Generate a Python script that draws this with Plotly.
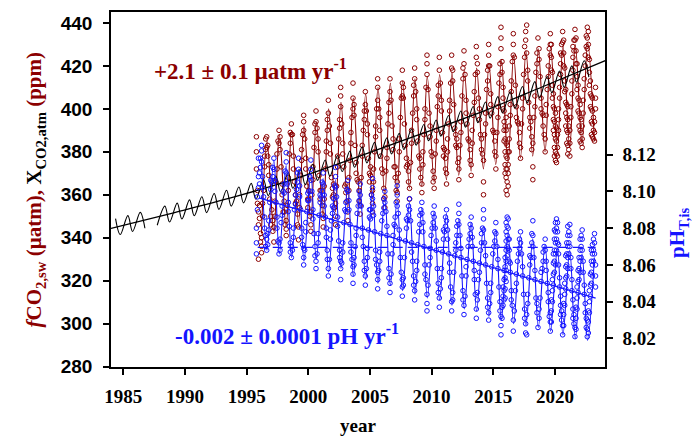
import plotly.graph_objects as go

RED = "#8B0000"
BLUE = "#1414FF"
SERIF = "Liberation Serif, Times New Roman, serif"
SANS = "Liberation Sans, Arial, sans-serif"

# ---------------- observations (one row per year, 12 monthly cells) ----------------
obs_years = list(range(1995, 2024))

fco2_obs = [
    [[], [], [], [], [], [], [], [], [], [372, 380, 387], [356, 362], [346, 352, 330]],
    [[349, 355], [338, 342], [333, 340, 336], [350, 356], [362], [373, 378], [381, 386], [387, 382], [383, 378], [369, 374], [358], [350, 346]],
    [[353], [343, 348], [338, 345], [350, 357], [366], [372, 379], [385], [390, 384], [381, 387], [373], [360, 365], [352]],
    [[352, 357], [346], [341, 348, 344], [355], [362, 368], [379], [384, 389], [393, 388], [388], [372, 378], [366], [356, 360]],
    [[357], [346, 351], [345, 339], [354, 360], [369], [376, 381], [388], [394, 390, 397], [386], [377, 372], [364], [358, 354]],
    [[358, 362], [350], [346, 352, 343], [360], [367, 373], [382], [389, 393], [394, 399], [391], [380, 386], [369], [362, 358]],
    [[362], [351, 355], [349, 345], [358, 364], [372], [385, 380], [390, 395], [398, 404], [392], [379, 384], [368], [363, 359]],
    [[360, 365], [354], [350, 346, 356], [364], [373, 378], [386], [395, 391], [401, 406, 410], [393], [384, 379], [373], [364]],
    [[365, 361], [357], [352, 348], [362, 368], [376], [389, 384], [396], [405, 400, 412], [397, 402], [383], [375, 370], [367]],
    [[366], [357, 362], [355, 351], [368], [378, 383], [390], [399, 395], [402, 408], [399], [388, 393], [377], [370, 366]],
    [[369, 373], [360], [356, 352, 362], [366, 372], [380], [392, 387], [400], [410, 404, 414], [400], [390, 396], [378], [372]],
    [[370], [363, 358], [359, 354], [371], [382, 377], [393], [403, 398], [408, 414], [404], [392], [381, 386], [373]],
    [[373, 368], [362], [361, 357, 366], [370], [386, 380], [396], [405], [412, 406, 418], [405, 410], [393], [383], [377, 373]],
    [[374], [366, 371], [363, 358], [375], [384, 390], [398], [406, 411], [414, 419], [408], [395, 400], [385], [378]],
    [[377, 372], [368], [365, 361], [374, 380], [388], [400, 395], [410], [416, 421, 425], [409], [398], [387, 392], [380]],
    [[378], [371, 366], [368, 363], [379], [390, 385], [401], [411, 406], [418, 424], [412], [399, 404], [389], [382, 378]],
    [[381], [372, 377], [370, 365], [380, 386], [393], [404, 399], [412], [419, 425], [413, 418], [402], [391], [383, 388]],
    [[382, 386], [375], [372, 367, 377], [383], [394, 389], [406], [414, 419], [421, 427], [416], [404, 398], [393], [386]],
    [[385], [376, 381], [374, 369], [384, 390], [397], [408, 403], [416], [424, 429], [417, 421], [405], [395, 400], [388]],
    [[386, 381], [379], [376, 366, 360], [388], [398, 393], [409], [418, 413], [425, 430, 420], [420], [407, 402], [398], [390]],
    [[389], [380, 385], [378, 372], [389], [401, 396], [412], [421, 416], [428, 433, 438], [422, 417], [410, 405, 400], [399, 394, 390, 385], [392, 386, 380, 374, 370]],
    [[390, 384, 378, 372, 368, 362, 396], [383, 377, 372, 366, 360], [380, 374, 370, 364], [392, 386, 380], [402, 397], [413, 408], [422], [430, 425, 435], [424], [411], [401, 396], [394]],
    [[393], [384, 389], [382, 377], [393], [405, 400], [416], [424, 429], [432, 436], [426, 439], [413, 418], [403], [396, 391]],
    [[394], [387, 381], [384, 367, 373], [396], [406, 401], [417], [426, 421], [433], [428, 423], [415], [405, 400], [398]],
    [[397, 392], [388], [386, 380], [397, 402], [409], [420, 415], [428], [435, 430, 425], [430, 424, 418], [417, 411, 405], [407, 401, 395, 390], [400, 394, 388, 382, 378]],
    [[398, 392, 386, 380, 376], [391, 385, 379, 375], [388, 382, 378], [400, 395, 390], [410, 405], [421, 416, 426], [430, 425], [436, 431], [432, 426, 420], [419, 413, 408], [409, 403, 398, 392], [402, 396, 390, 384]],
    [[401, 395, 389, 383, 379], [392, 386, 381], [390, 384, 378], [401, 396], [413, 407], [424, 418, 429], [432, 427], [437, 432], [433, 427, 421], [421, 415, 409], [411, 405, 399], [404, 398, 392]],
    [[402, 396, 390, 385], [395, 389, 384], [392, 386, 382], [404, 398], [414, 409], [425, 420], [434, 429], [438, 433, 428], [436, 430, 424], [423, 417, 411], [413, 407, 401], [406, 400, 394, 388]],
    [[405, 399, 393, 387], [396, 390, 386], [394, 389, 385], [405, 400, 410], [], [], [], [], [], [], [], []],
]

ph_obs = [
    [[], [], [], [], [], [], [], [], [], [8.080, 8.072, 8.066], [8.097, 8.090], [8.108, 8.102, 8.118]],
    [[8.110, 8.104], [8.118, 8.113], [8.122, 8.116, 8.125], [8.108, 8.102], [8.097], [8.086, 8.080], [8.076, 8.070], [8.068, 8.074], [8.071, 8.077], [8.084, 8.079], [8.094], [8.101, 8.106]],
    [[8.105], [8.113, 8.108], [8.118, 8.112], [8.106, 8.100], [8.094], [8.086, 8.080], [8.073], [8.066, 8.072], [8.074, 8.068], [8.083], [8.092, 8.087], [8.100]],
    [[8.104, 8.099], [8.111], [8.116, 8.110, 8.121], [8.104], [8.094, 8.089], [8.081], [8.072, 8.067], [8.064, 8.070], [8.068], [8.080, 8.075], [8.090], [8.098, 8.093]],
    [[8.101], [8.110, 8.105], [8.112, 8.118], [8.103, 8.097], [8.090], [8.080, 8.075], [8.071], [8.064, 8.060, 8.069], [8.068], [8.078, 8.083], [8.089], [8.095, 8.099]],
    [[8.100, 8.095], [8.108], [8.112, 8.106, 8.117], [8.100], [8.090, 8.085], [8.077], [8.070, 8.065], [8.062, 8.058], [8.066], [8.077, 8.072], [8.087], [8.094, 8.098]],
    [[8.097], [8.105, 8.100], [8.110, 8.104], [8.098, 8.092], [8.086], [8.075, 8.080], [8.068, 8.063], [8.058, 8.054], [8.063], [8.074, 8.079], [8.084], [8.092, 8.088]],
    [[8.096, 8.091], [8.103], [8.108, 8.102, 8.113], [8.097], [8.086, 8.081], [8.073], [8.064, 8.068], [8.058, 8.052, 8.062], [8.061], [8.072, 8.067], [8.083], [8.090]],
    [[8.094, 8.089], [8.101], [8.106, 8.100], [8.095, 8.090], [8.082], [8.072, 8.067], [8.063], [8.055, 8.050, 8.059], [8.060, 8.064], [8.070], [8.080, 8.076], [8.088]],
    [[8.092], [8.100, 8.095], [8.104, 8.098], [8.092], [8.080, 8.075], [8.070], [8.062, 8.057], [8.054, 8.049], [8.058], [8.069, 8.064], [8.079], [8.086, 8.090]],
    [[8.090, 8.085], [8.098], [8.102, 8.096, 8.107], [8.092, 8.087], [8.078], [8.068, 8.063], [8.060], [8.052, 8.047, 8.056], [8.057], [8.067, 8.062], [8.077], [8.084]],
    [[8.088], [8.096, 8.091], [8.100, 8.094], [8.089], [8.076, 8.081], [8.066], [8.058, 8.053], [8.050, 8.045], [8.055], [8.066], [8.076, 8.071], [8.082]],
    [[8.086, 8.081], [8.094], [8.098, 8.092, 8.103], [8.088], [8.074, 8.079], [8.064], [8.056], [8.048, 8.043, 8.052], [8.053, 8.049], [8.064], [8.073], [8.080, 8.085]],
    [[8.084], [8.092, 8.087], [8.096, 8.090], [8.084], [8.072, 8.067], [8.062], [8.054, 8.049], [8.046, 8.041], [8.051], [8.062, 8.057], [8.071], [8.078]],
    [[8.082, 8.087], [8.090], [8.094, 8.088], [8.083, 8.078], [8.070], [8.060, 8.055], [8.052], [8.044, 8.039, 8.035], [8.049], [8.060], [8.069, 8.064], [8.076]],
    [[8.080], [8.088, 8.083], [8.092, 8.086], [8.080], [8.068, 8.073], [8.058], [8.050, 8.045], [8.042, 8.037], [8.047], [8.058, 8.053], [8.067], [8.074, 8.079]],
    [[8.078], [8.086, 8.081], [8.090, 8.084], [8.079, 8.074], [8.066], [8.056, 8.061], [8.048], [8.040, 8.035], [8.045, 8.041], [8.056], [8.065], [8.072, 8.068]],
    [[8.076, 8.081], [8.084], [8.088, 8.082, 8.093], [8.076], [8.064, 8.069], [8.054], [8.046, 8.041], [8.038, 8.033], [8.043], [8.054, 8.059], [8.063], [8.070]],
    [[8.074], [8.082, 8.077], [8.086, 8.080], [8.075, 8.070], [8.062], [8.052, 8.057], [8.044], [8.036, 8.031], [8.041, 8.045], [8.052], [8.061, 8.056], [8.068]],
    [[8.072, 8.077], [8.080], [8.085, 8.079, 8.090], [8.072], [8.060, 8.065], [8.050], [8.042, 8.037], [8.034, 8.030], [8.039], [8.050, 8.045], [8.059], [8.066]],
    [[8.070], [8.078, 8.073], [8.083, 8.077], [8.070], [8.058, 8.063], [8.048], [8.040, 8.035], [8.032, 8.027, 8.022], [8.037, 8.031], [8.048, 8.043, 8.038], [8.057, 8.052, 8.046, 8.041], [8.064, 8.059, 8.053, 8.047, 8.042]],
    [[8.068, 8.073, 8.078, 8.083, 8.062, 8.057, 8.051], [8.076, 8.081, 8.086, 8.070, 8.065], [8.080, 8.085, 8.074, 8.069], [8.068, 8.074, 8.062], [8.056, 8.061], [8.046, 8.041], [8.038], [8.030, 8.024], [8.035], [8.046], [8.055, 8.050], [8.062]],
    [[8.066], [8.074, 8.069], [8.078, 8.072], [8.066], [8.054, 8.059], [8.044], [8.036, 8.031], [8.028, 8.023], [8.033, 8.022], [8.044, 8.039], [8.053], [8.060, 8.065]],
    [[8.064], [8.072, 8.077], [8.076, 8.084, 8.070], [8.064], [8.052, 8.057], [8.042], [8.034, 8.039], [8.026], [8.031, 8.036], [8.042], [8.051, 8.056], [8.058]],
    [[8.062, 8.067], [8.070], [8.074, 8.068], [8.062, 8.057], [8.050], [8.040, 8.045], [8.032], [8.024, 8.029, 8.034], [8.029, 8.035, 8.041], [8.040, 8.046, 8.052], [8.049, 8.055, 8.061, 8.066], [8.056, 8.062, 8.068, 8.074, 8.079]],
    [[8.060, 8.066, 8.072, 8.078, 8.083], [8.068, 8.074, 8.080, 8.085], [8.072, 8.078, 8.083], [8.060, 8.066, 8.071], [8.048, 8.053], [8.038, 8.043, 8.033], [8.030, 8.035], [8.022, 8.027], [8.027, 8.033, 8.039], [8.038, 8.044, 8.050], [8.047, 8.053, 8.059, 8.065], [8.054, 8.060, 8.066, 8.072]],
    [[8.058, 8.064, 8.070, 8.076, 8.081], [8.066, 8.072, 8.078], [8.070, 8.076, 8.082], [8.058, 8.064], [8.046, 8.052], [8.036, 8.041, 8.031], [8.028, 8.033], [8.021, 8.026], [8.025, 8.031, 8.037], [8.036, 8.042, 8.048], [8.045, 8.051, 8.057], [8.052, 8.058, 8.064]],
    [[8.056, 8.062, 8.068, 8.074], [8.064, 8.070, 8.076], [8.068, 8.074, 8.079], [8.056, 8.062], [8.044, 8.049], [8.034, 8.039], [8.026, 8.031], [8.021, 8.025, 8.030], [8.023, 8.029, 8.035], [8.034, 8.040, 8.046], [8.043, 8.049, 8.055], [8.050, 8.056, 8.062, 8.068]],
    [[8.054, 8.060, 8.066, 8.071], [8.062, 8.068, 8.074], [8.066, 8.072, 8.077], [8.054, 8.060, 8.048], [], [], [], [], [], [], [], []],
]

# ---------------- fitted seasonal curves (values at seasonal extremes) ----------------
fit_years = list(range(1996, 2024))
fco2_fit_trough = [342, 343, 345, 347, 348, 350, 352, 354, 356, 358, 360, 361, 363, 364,
                   366, 367, 369, 371, 372, 374, 375, 377, 378, 380, 381, 382, 384, 385]
fco2_fit_peak = [385, 388, 390, 392, 394, 400, 403, 405, 407, 410, 412, 413, 414, 415,
                 416, 417, 418, 419, 421, 423, 425, 427, 428, 429, 430, 430, 431]
ph_fit_peak = [8.118, 8.117, 8.114, 8.112, 8.110, 8.107, 8.106, 8.103, 8.101, 8.100, 8.097, 8.095,
               8.094, 8.091, 8.089, 8.088, 8.085, 8.083, 8.081, 8.079, 8.077, 8.076, 8.074, 8.071,
               8.069, 8.068, 8.066, 8.064]
ph_fit_trough = [8.068, 8.066, 8.064, 8.062, 8.063, 8.056, 8.058, 8.054, 8.052, 8.050, 8.049, 8.046,
                 8.044, 8.042, 8.041, 8.038, 8.036, 8.035, 8.032, 8.030, 8.028, 8.027, 8.026, 8.024,
                 8.022, 8.020, 8.019]

# pH linear trend and reference level
ph_trend_years = [1996.0, 2023.3]
ph_trend_vals = [8.0965, 8.0419]
ph_ref_years = [1995.9, 2023.3]
ph_ref_vals = [8.0695, 8.0695]

# ---------------- atmospheric XCO2 ----------------
atm_years = list(range(1984, 2023))
atm_peak = [348.9, 350.3, 351.8, 353.2, 354.7, 356.1, 357.6, 359.1, 360.6, 362.1, 363.6, 365.3, 367.0,
            368.7, 370.4, 372.1, 374.2, 376.2, 378.3, 380.3, 382.3, 384.4, 386.5, 388.6, 390.6, 392.7,
            394.8, 396.9, 399.0, 401.1, 403.2, 405.7, 408.0, 410.4, 412.7, 415.1, 417.6, 420.0, 422.4]
atm_trough = [341.5, 342.9, 344.4, 345.8, 347.3, 348.7, 350.2, 351.7, 353.2, 354.7, 356.2, 357.9, 359.6,
              361.3, 363.0, 364.7, 366.7, 368.7, 370.8, 372.8, 374.8, 376.9, 379.0, 381.1, 383.1, 385.2,
              387.3, 389.4, 391.5, 393.6, 395.7, 398.1, 400.4, 402.8, 405.1, 407.5, 410.0, 412.4, 414.8]
atm_gaps = [(1985.9, 1986.3), (1986.8, 1987.6)]
atm_trend_years = [1984, 1989, 1994, 1999, 2004, 2009, 2014, 2019, 2024.1]
atm_trend_vals = [344.3, 351.5, 359.0, 367.5, 377.6, 388.0, 398.5, 410.3, 422.5]


def flatten(rows):
    xs, ys = [], []
    for yr, row in zip(obs_years, rows):
        for m, cell in enumerate(row):
            for v in cell:
                xs.append(yr + (m + 0.5) / 12)
                ys.append(v)
    return xs, ys


def zigzag(years, first, first_phase, second, second_phase):
    xs, ys = [], []
    for i, yr in enumerate(years):
        if i < len(first):
            xs.append(yr + first_phase); ys.append(first[i])
        if i < len(second):
            xs.append(yr + second_phase); ys.append(second[i])
    return xs, ys


fx, fy = flatten(fco2_obs)
px, py = flatten(ph_obs)
ffx, ffy = zigzag(fit_years, fco2_fit_trough, 0.2, fco2_fit_peak, 0.65)
pfx, pfy = zigzag(fit_years, ph_fit_peak, 0.2, ph_fit_trough, 0.65)
ax0, ay0 = zigzag(atm_years, atm_peak, 0.37, atm_trough, 0.75)
ax, ay = [], []
for x, y in zip(ax0, ay0):
    if any(a < x < b for a, b in atm_gaps):
        if ax and ax[-1] is not None:
            ax.append(None); ay.append(None)
        continue
    ax.append(x); ay.append(y)

fig = go.Figure()
fig.add_trace(go.Scatter(x=fx, y=fy, mode="markers",
                         marker=dict(symbol="circle-open", size=4.6, color=RED, line=dict(width=1.0, color=RED))))
fig.add_trace(go.Scatter(x=ffx, y=ffy, mode="lines", line=dict(color=RED, width=1.1, shape="spline")))
fig.add_trace(go.Scatter(x=ax, y=ay, mode="lines", connectgaps=False,
                         line=dict(color="black", width=1.1, shape="spline")))
fig.add_trace(go.Scatter(x=atm_trend_years, y=atm_trend_vals, mode="lines",
                         line=dict(color="black", width=1.3, shape="spline")))
fig.add_trace(go.Scatter(x=px, y=py, mode="markers", yaxis="y2",
                         marker=dict(symbol="circle-open", size=4.6, color=BLUE, line=dict(width=1.0, color=BLUE))))
fig.add_trace(go.Scatter(x=pfx, y=pfy, mode="lines", yaxis="y2", line=dict(color=BLUE, width=1.1, shape="spline")))
fig.add_trace(go.Scatter(x=ph_trend_years, y=ph_trend_vals, mode="lines", yaxis="y2",
                         line=dict(color=BLUE, width=1.3)))
fig.add_trace(go.Scatter(x=ph_ref_years, y=ph_ref_vals, mode="lines", yaxis="y2",
                         line=dict(color=BLUE, width=1.3, dash="10px,5px")))

axis_common = dict(showgrid=False, zeroline=False, showline=True, linecolor="black", linewidth=1.5,
                   ticks="outside", ticklen=6, tickwidth=1.5, tickcolor="black")

fig.update_layout(
    width=692, height=441, autosize=False,
    margin=dict(l=111, r=87, t=10, b=74),
    paper_bgcolor="white", plot_bgcolor="white",
    showlegend=False,
    xaxis=dict(range=[1984, 2024.06], tickvals=[1985, 1990, 1995, 2000, 2005, 2010, 2015, 2020],
               mirror=True, ticklabelstandoff=5,
               tickfont=dict(family=SERIF, size=19, color="black", weight="bold"),
               **axis_common),
    yaxis=dict(range=[279.8, 445.1], tickvals=list(range(280, 441, 20)), mirror=True,
               ticklabelstandoff=7,
               tickfont=dict(family=SANS, size=19, color="black", weight="bold"), **axis_common),
    yaxis2=dict(range=[8.0045, 8.1975], overlaying="y", side="right",
                tickvals=[8.02, 8.04, 8.06, 8.08, 8.10, 8.12], tickformat=".2f", ticklabelstandoff=6,
                tickfont=dict(family=SERIF, size=19, color="black", weight="bold"), **axis_common),
    annotations=[
        dict(text='<i>f</i>CO<sub>2,sw</sub> (µatm), <span style="color:black">X<sub>CO2,atm</sub></span> (ppm)',
             xref="paper", yref="paper", x=-0.154, y=0.5, xanchor="center", yanchor="middle",
             textangle=-90, showarrow=False,
             font=dict(family=SERIF, size=21, color=RED, weight="bold")),
        dict(text="pH<sub>T,is</sub>", xref="paper", yref="paper", x=1.148, y=0.378,
             xanchor="center", yanchor="middle", textangle=-90,
             showarrow=False, font=dict(family=SERIF, size=21, color=BLUE, weight="bold")),
        dict(text="year", xref="paper", yref="paper", x=0.5, y=-0.165, xanchor="center", yanchor="middle",
             showarrow=False, font=dict(family=SERIF, size=19, color="black", weight="bold")),
        dict(text="+2.1 ± 0.1 µatm yr<sup>-1</sup>", xref="paper", yref="paper", x=0.083, y=0.885,
             xanchor="left", yanchor="top", showarrow=False,
             font=dict(family=SERIF, size=23, color=RED, weight="bold")),
        dict(text="-0.002 ± 0.0001 pH yr<sup>-1</sup>", xref="paper", yref="paper", x=0.125, y=0.045,
             xanchor="left", yanchor="bottom", showarrow=False,
             font=dict(family=SERIF, size=23, color=BLUE, weight="bold")),
    ],
)

fig.write_html("out.html")
